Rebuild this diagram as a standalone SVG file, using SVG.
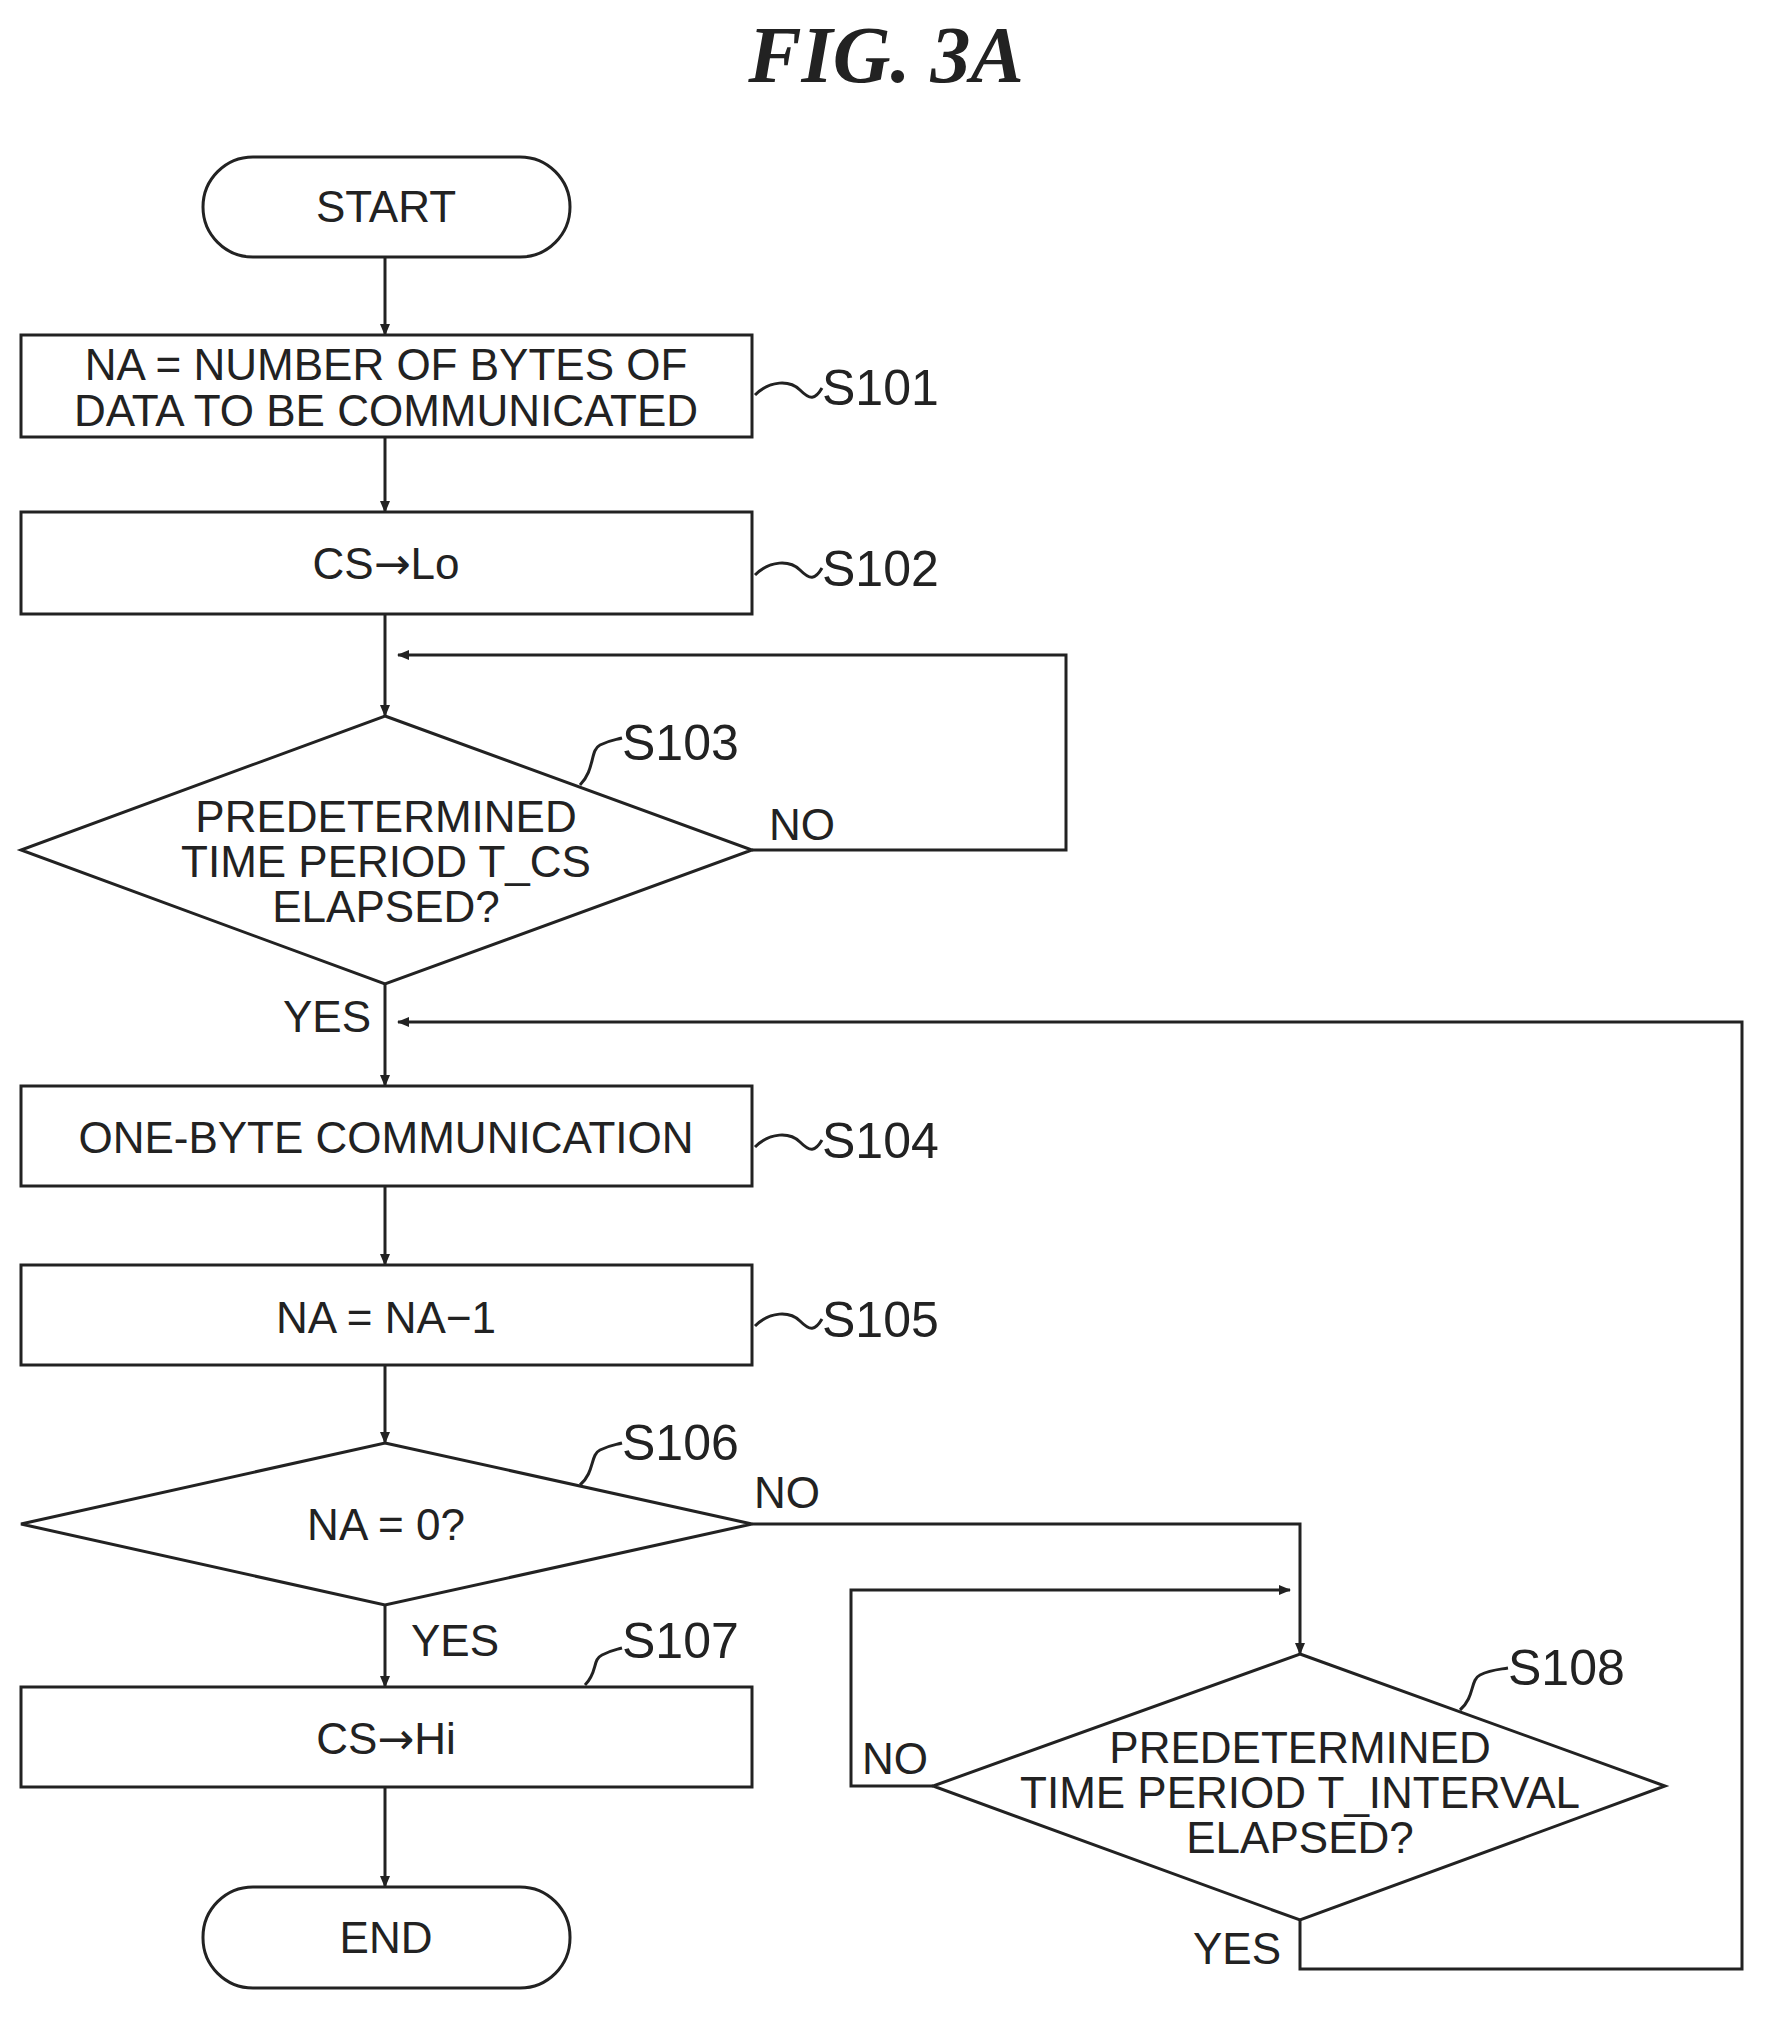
<svg xmlns="http://www.w3.org/2000/svg" width="1772" height="2020" viewBox="0 0 1772 2020">
<style>
.s{fill:#fff;stroke:#222;stroke-width:3}
.l{fill:none;stroke:#222;stroke-width:3}
text{font-family:"Liberation Sans",Arial,sans-serif;font-size:44px;fill:#222;text-anchor:middle}
.lab{font-size:50px;text-anchor:start}
.ar{font-family:"DejaVu Sans",sans-serif;font-size:44px}
</style>
<defs><marker id="a" markerWidth="12" markerHeight="12" refX="11" refY="6" orient="auto" markerUnits="userSpaceOnUse"><path d="M0,1 L12,6 L0,11 Z" fill="#222"/></marker></defs>
<text x="886" y="82" style="font-family:'Liberation Serif',serif;font-style:italic;font-weight:bold;font-size:80px">FIG. 3A</text>
<g id="connectors">
<path class="l" d="M385,257 V335" marker-end="url(#a)"/>
<path class="l" d="M385,437 V512" marker-end="url(#a)"/>
<path class="l" d="M385,614 V716" marker-end="url(#a)"/>
<path class="l" d="M752,850 H1066 V655 H398" marker-end="url(#a)"/>
<path class="l" d="M385,984 V1086" marker-end="url(#a)"/>
<path class="l" d="M1300,1920 V1969 H1742 V1022 H398" marker-end="url(#a)"/>
<path class="l" d="M385,1186 V1265" marker-end="url(#a)"/>
<path class="l" d="M385,1365 V1443" marker-end="url(#a)"/>
<path class="l" d="M385,1605 V1687" marker-end="url(#a)"/>
<path class="l" d="M385,1787 V1887" marker-end="url(#a)"/>
<path class="l" d="M752,1524 H1300 V1654" marker-end="url(#a)"/>
<path class="l" d="M933,1786 H851 V1590 H1290" marker-end="url(#a)"/>
<text x="802" y="840">NO</text>
<text x="327" y="1032">YES</text>
<text x="787" y="1508">NO</text>
<text x="455" y="1656">YES</text>
<text x="895" y="1774">NO</text>
<text x="1237" y="1964">YES</text>
</g>
<g id="start"><rect class="s" x="203" y="157" width="367" height="100" rx="50"/><text x="386" y="222">START</text></g>
<g id="s101"><rect class="s" x="21" y="335" width="731" height="102"/><text x="386" y="380">NA = NUMBER OF BYTES OF</text><text x="386" y="426">DATA TO BE COMMUNICATED</text>
<path class="l" d="M755,395 C770,380 790,380 800,390 S815,400 822,388"/><text class="lab" x="822" y="405">S101</text></g>
<g id="s102"><rect class="s" x="21" y="512" width="731" height="102"/><text x="386" y="579">CS<tspan class="ar">→</tspan>Lo</text>
<path class="l" d="M755,575 C770,560 790,560 800,570 S815,580 822,568"/><text class="lab" x="822" y="586">S102</text></g>
<g id="s103"><polygon class="s" points="385,716 752,850 385,984 21,850"/><text x="386" y="832">PREDETERMINED</text><text x="386" y="877">TIME PERIOD T_CS</text><text x="386" y="922">ELAPSED?</text>
<path class="l" d="M580,785 C595,770 590,750 600,745 S615,740 622,738"/><text class="lab" x="622" y="760">S103</text></g>
<g id="s104"><rect class="s" x="21" y="1086" width="731" height="100"/><text x="386" y="1153">ONE-BYTE COMMUNICATION</text>
<path class="l" d="M755,1147 C770,1132 790,1132 800,1142 S815,1152 822,1140"/><text class="lab" x="822" y="1158">S104</text></g>
<g id="s105"><rect class="s" x="21" y="1265" width="731" height="100"/><text x="386" y="1333">NA = NA−1</text>
<path class="l" d="M755,1326 C770,1311 790,1311 800,1321 S815,1331 822,1319"/><text class="lab" x="822" y="1337">S105</text></g>
<g id="s106"><polygon class="s" points="385,1443 752,1524 385,1605 21,1524"/><text x="386" y="1540">NA = 0?</text>
<path class="l" d="M580,1485 C595,1472 590,1455 600,1450 S615,1445 622,1443"/><text class="lab" x="622" y="1460">S106</text></g>
<g id="s107"><rect class="s" x="21" y="1687" width="731" height="100"/><text x="386" y="1754">CS<tspan class="ar">→</tspan>Hi</text>
<path class="l" d="M585,1685 C598,1672 592,1660 602,1655 S615,1650 622,1648"/><text class="lab" x="622" y="1658">S107</text></g>
<g id="s108"><polygon class="s" points="1300,1654 1665,1786 1300,1920 933,1786"/><text x="1300" y="1763">PREDETERMINED</text><text x="1300" y="1808">TIME PERIOD T_INTERVAL</text><text x="1300" y="1853">ELAPSED?</text>
<path class="l" d="M1460,1710 C1475,1697 1470,1680 1480,1675 S1495,1670 1508,1668"/><text class="lab" x="1508" y="1685">S108</text></g>
<g id="end"><rect class="s" x="203" y="1887" width="367" height="101" rx="50"/><text x="386" y="1953">END</text></g>
</svg>
